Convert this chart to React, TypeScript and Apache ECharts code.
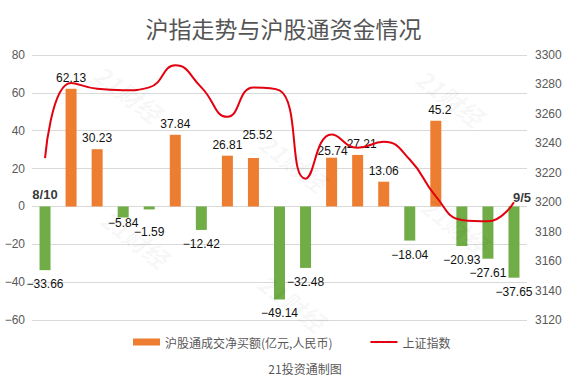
import React, { useEffect, useRef } from "react";
import * as echarts from "echarts";

const dates = ["8/10","8/11","8/14","8/15","8/16","8/17","8/18","8/21","8/22","8/23","8/24","8/25","8/28","8/29","8/30","8/31","9/1","9/4","9/5"];
const netBuy = [-33.66, 62.13, 30.23, -5.84, -1.59, 37.84, -12.42, 26.81, 25.52, -49.14, -32.48, 25.74, 27.21, 13.06, -18.04, 45.2, -20.93, -27.61, -37.65];
const shIndex = [3230, 3281, 3277, 3276, 3278, 3293, 3278, 3258, 3278, 3276, 3216, 3246, 3237, 3241, 3229, 3204, 3188, 3187, 3200];
const leftTicks = { min: -60, max: 80, step: 20 };
const rightTicks = { min: 3120, max: 3300, step: 20 };

const POS = "#ED7D31";
const NEG = "#70AD47";
const LINE = "#E3000F";
const GREY = "#595959";
const FONT = "'Liberation Sans', 'Noto Sans CJK SC', sans-serif";

const labelNudge: Record<number, [number, number]> = { 3: [0, -8], 4: [0, 9], 8: [4, -12], 11: [1, 4], 12: [4, 0], 15: [4, 0] };

const fmt = (v: number) => (v < 0 ? "\u2212" + Math.abs(v) : String(v));

export default function App() {
  const ref = useRef<HTMLDivElement>(null);
  useEffect(() => {
    if (!ref.current) return;
    const chart = echarts.init(ref.current, undefined, { renderer: "svg" });
    const barData = netBuy.map((v, i) => ({
      value: v,
      itemStyle: { color: v >= 0 ? POS : NEG },
      label: {
        show: true,
        position: v >= 0 ? "top" : "bottom",
        distance: v >= 0 ? 5 : 8,
        offset: labelNudge[i] || [0, 0],
        formatter: () => fmt(v),
        color: "#111",
        fontSize: 12,
        fontFamily: FONT,
      },
    }));
    const last = shIndex.length - 1;
    const endLabelData = shIndex.map((v, i) => {
      if (i === 0)
        return { value: v, label: { show: true, position: "bottom", distance: 5, offset: [0, 24], formatter: dates[i] } };
      if (i === last)
        return { value: v, label: { show: true, position: "top", distance: 5, offset: [8, 7], formatter: dates[i] } };
      return "-";
    });
    const wm = [[128, 93], [450, 97], [293, 162], [135, 238], [455, 225], [292, 302]].map(([x, y]) => ({
      type: "text",
      x, y,
      rotation: -0.65,
      silent: true,
      z: 100,
      style: { text: "21财经", fill: "rgba(0,0,0,0.045)", font: "italic bold 24px 'Noto Sans CJK SC', sans-serif", textAlign: "center", textVerticalAlign: "middle" },
    }));
    chart.setOption({
      animation: false,
      backgroundColor: "#fff",
      textStyle: { fontFamily: FONT },
      title: [
        { text: "沪指走势与沪股通资金情况", left: "center", top: 11, textStyle: { fontSize: 23, fontWeight: "normal", color: "#555", fontFamily: "'Noto Sans CJK SC', sans-serif" } },
        { text: "21投资通制图", left: 300, top: 357, textAlign: "center", textStyle: { fontSize: 12, fontWeight: "normal", color: GREY, fontFamily: "'Noto Sans CJK SC', sans-serif" } },
      ],
      legend: {
        left: 128, top: 331,
        itemWidth: 27, itemHeight: 7, itemGap: 38,
        symbolKeepAspect: true,
        textStyle: { fontSize: 12, color: GREY, fontFamily: "'Noto Sans CJK SC', sans-serif" },
        data: [
          { name: "沪股通成交净买额(亿元,人民币)", icon: "rect", itemStyle: { color: POS } },
          { name: "上证指数", icon: "path://M0,0H27V2H0Z", itemStyle: { color: LINE } },
        ],
      },
      grid: { left: 32, right: 40, top: 55, bottom: 61 },
      xAxis: {
        type: "category",
        data: dates,
        axisLine: { show: false },
        axisTick: { show: false },
        axisLabel: { show: false },
      },
      yAxis: [
        {
          type: "value", min: leftTicks.min, max: leftTicks.max, interval: leftTicks.step,
          axisLine: { show: false }, axisTick: { show: false },
          axisLabel: { color: GREY, fontSize: 12, margin: 7, formatter: (v: number) => fmt(v) },
          splitLine: { lineStyle: { color: "#D9D9D9", width: 1 } },
        },
        {
          type: "value", min: rightTicks.min, max: rightTicks.max, interval: rightTicks.step,
          axisLine: { show: false }, axisTick: { show: false },
          axisLabel: { color: GREY, fontSize: 12, margin: 8, formatter: (v: number) => String(v) },
          splitLine: { show: false },
        },
      ],
      series: [
        {
          name: "沪股通成交净买额(亿元,人民币)",
          type: "bar",
          barWidth: 11,
          color: POS,
          data: barData,
        },
        {
          name: "上证指数",
          type: "line",
          yAxisIndex: 1,
          smooth: 0.5,
          symbol: "none",
          color: LINE,
          lineStyle: { color: LINE, width: 2 },
          data: shIndex,
          z: 5,
        },
        {
          name: "dateLabels",
          type: "scatter",
          yAxisIndex: 1,
          symbolSize: 1,
          itemStyle: { color: "rgba(0,0,0,0)" },
          label: { fontWeight: "bold", fontSize: 13, color: "#000", fontFamily: FONT },
          data: endLabelData,
          z: 6,
          silent: true,
        },
      ],
      graphic: wm,
    });
    return () => chart.dispose();
  }, []);
  return <div ref={ref} style={{ width: 567, height: 381, position: "absolute", left: 0, top: 0 }} />;
}
